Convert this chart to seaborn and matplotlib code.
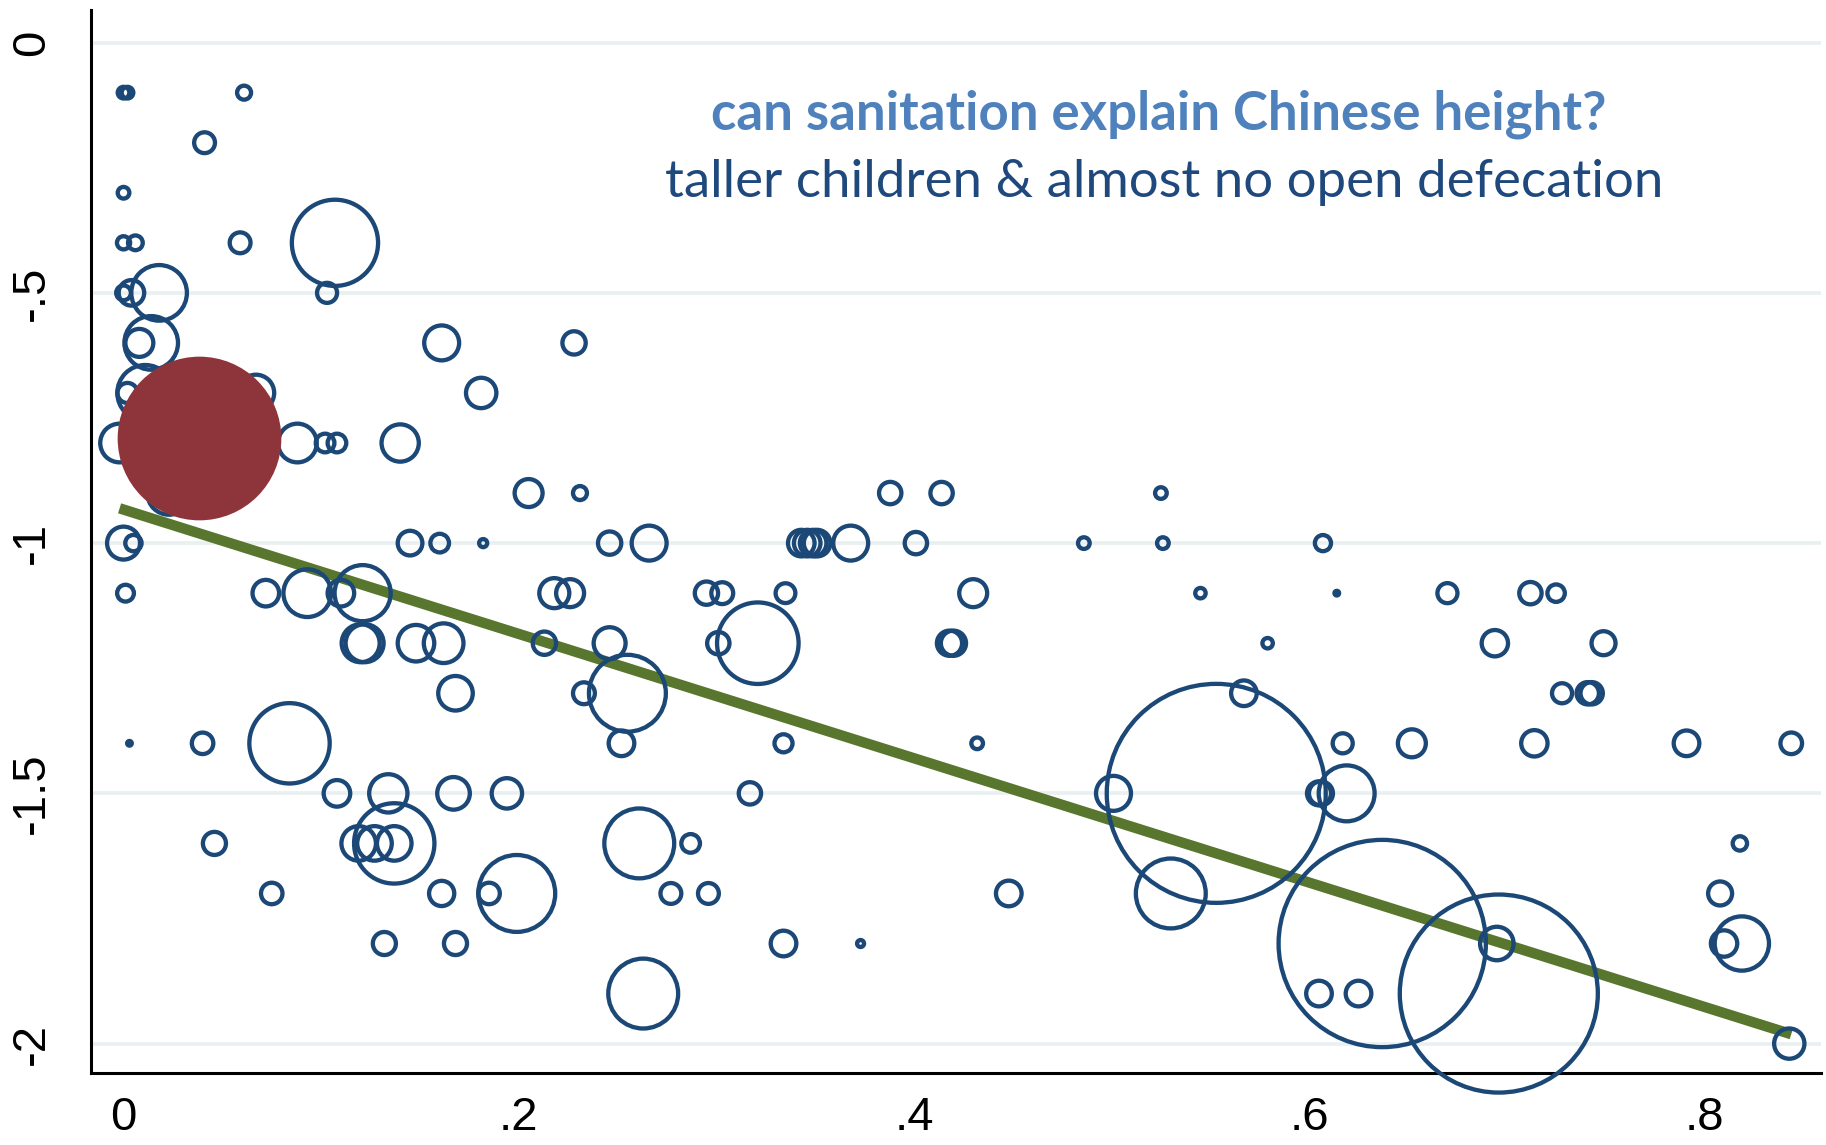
import numpy as np
import pandas as pd
import matplotlib
matplotlib.use("Agg")
import matplotlib.pyplot as plt
import seaborn as sns

# share of households practising open defecation (x), child height-for-age (y), population weight
open_def = [0.000, 0.002, 0.061,
            0.041,
            0.000,
            0.000, 0.006, 0.059, 0.107,
            0.000, 0.004, 0.018, 0.103,
            0.008, 0.014, 0.161, 0.228,
            0.002, 0.011, 0.067, 0.181,
            -0.002, 0.088, 0.102, 0.108, 0.140,
            0.023, 0.205, 0.231, 0.388, 0.414, 0.525,
            0.000, 0.005, 0.145, 0.160, 0.182, 0.246, 0.266, 0.343, 0.346, 0.349, 0.351,
            0.368, 0.401, 0.486, 0.526, 0.607,
            0.001, 0.072, 0.093, 0.110, 0.121, 0.218, 0.226, 0.295, 0.303, 0.335, 0.430,
            0.545, 0.614, 0.670, 0.712, 0.725,
            0.120, 0.122, 0.148, 0.162, 0.213, 0.246, 0.301, 0.321, 0.418, 0.420, 0.579,
            0.694, 0.749,
            0.168, 0.233, 0.255, 0.567, 0.728, 0.741, 0.743,
            0.003, 0.040, 0.084, 0.252, 0.334, 0.432, 0.617, 0.652, 0.714, 0.791, 0.844,
            0.108, 0.134, 0.167, 0.194, 0.317, 0.501, 0.553, 0.605, 0.606, 0.619,
            0.046, 0.119, 0.127, 0.137, 0.137, 0.261, 0.287, 0.818,
            0.075, 0.161, 0.185, 0.199, 0.277, 0.296, 0.448, 0.530, 0.808,
            0.132, 0.168, 0.334, 0.373, 0.637, 0.695, 0.810, 0.819,
            0.263, 0.605, 0.625, 0.696,
            0.843]
height = [-0.1, -0.1, -0.1,
          -0.2,
          -0.3,
          -0.4, -0.4, -0.4, -0.4,
          -0.5, -0.5, -0.5, -0.5,
          -0.6, -0.6, -0.6, -0.6,
          -0.7, -0.7, -0.7, -0.7,
          -0.8, -0.8, -0.8, -0.8, -0.8,
          -0.9, -0.9, -0.9, -0.9, -0.9, -0.9,
          -1.0, -1.0, -1.0, -1.0, -1.0, -1.0, -1.0, -1.0, -1.0, -1.0, -1.0,
          -1.0, -1.0, -1.0, -1.0, -1.0,
          -1.1, -1.1, -1.1, -1.1, -1.1, -1.1, -1.1, -1.1, -1.1, -1.1, -1.1,
          -1.1, -1.1, -1.1, -1.1, -1.1,
          -1.2, -1.2, -1.2, -1.2, -1.2, -1.2, -1.2, -1.2, -1.2, -1.2, -1.2,
          -1.2, -1.2,
          -1.3, -1.3, -1.3, -1.3, -1.3, -1.3, -1.3,
          -1.4, -1.4, -1.4, -1.4, -1.4, -1.4, -1.4, -1.4, -1.4, -1.4, -1.4,
          -1.5, -1.5, -1.5, -1.5, -1.5, -1.5, -1.5, -1.5, -1.5, -1.5,
          -1.6, -1.6, -1.6, -1.6, -1.6, -1.6, -1.6, -1.6,
          -1.7, -1.7, -1.7, -1.7, -1.7, -1.7, -1.7, -1.7, -1.7,
          -1.8, -1.8, -1.8, -1.8, -1.8, -1.8, -1.8, -1.8,
          -1.9, -1.9, -1.9, -1.9,
          -2.0]
pop = [0.25, 0.25, 0.36,
       0.8,
       0.25,
       0.32, 0.4, 0.8, 13.7,
       0.4, 1.2, 5.7, 0.74,
       1.44, 5.3, 2.25, 1.0,
       0.74, 5.76, 2.46, 1.7,
       2.76, 2.76, 0.64, 0.64, 2.56,
       3.46, 1.44, 0.36, 0.92, 0.92, 0.25,
       2.0, 0.49, 1.12, 0.64, 0.12, 1.0, 2.25, 1.3, 1.3, 1.3, 1.3,
       2.25, 0.92, 0.25, 0.25, 0.48,
       0.52, 1.3, 4.2, 1.3, 5.8, 1.66, 1.44, 1.0, 0.88, 0.72, 1.44,
       0.2, 0.04, 0.74, 0.92, 0.56,
       2.66, 2.66, 2.46, 2.9, 1.0, 1.88, 0.92, 12.25, 1.17, 1.17, 0.2,
       1.28, 1.06,
       2.2, 0.88, 10.9, 1.21, 0.74, 0.92, 0.92,
       0.04, 0.85, 11.9, 1.21, 0.6, 0.25, 0.74, 1.44, 1.28, 1.21, 0.86,
       1.3, 2.7, 1.96, 1.7, 0.92, 2.25, 88.4, 1.06, 1.06, 5.76,
       0.98, 2.2, 2.2, 2.2, 11.9, 9.0, 0.64, 0.38,
       0.85, 1.17, 0.85, 10.9, 0.8, 0.8, 1.21, 9.0, 1.06,
       0.98, 0.98, 1.21, 0.09, 79.2, 2.07, 1.28, 5.43,
       9.0, 1.21, 1.21, 72.3,
       1.69]

china_x = [0.038]
china_y = [-0.79]
china_pop = [49.4]

fit_intercept = -0.933
fit_slope = -1.242

xticks = [0, 0.2, 0.4, 0.6, 0.8]
xtick_labels = ["0", ".2", ".4", ".6", ".8"]
yticks = [0, -0.5, -1, -1.5, -2]
ytick_labels = ["0", "-.5", "-1", "-1.5", "-2"]

title1 = "can sanitation explain Chinese height?"
title2 = "taller children & almost no open defecation"

df = pd.DataFrame({"x": open_def, "y": height, "pop": pop})
china = pd.DataFrame({"x": china_x, "y": china_y, "pop": china_pop})
fit = pd.DataFrame({"x": [df["x"].min(), df["x"].max()]})
fit["y"] = fit_intercept + fit_slope * fit["x"]

sns.set_style("white")
plt.rcParams['font.family'] = ['Liberation Sans', 'DejaVu Sans']

navy = "#1b4876"
red = "#8e353b"
green = "#58762e"

fig = plt.figure(figsize=(18.26, 11.45), dpi=100)
ax = fig.add_axes([0.0498, 0.0632, 0.9474, 0.928])

pmax = 90.0
smax = 281.2 * pmax

sns.lineplot(data=fit, x="x", y="y", color=green, linewidth=7.5, ax=ax,
             solid_capstyle="butt", zorder=2)
sns.scatterplot(data=df, x="x", y="y", size="pop", sizes=(0, smax), size_norm=(0, pmax),
                facecolor="none", edgecolor=navy, linewidth=3.1, legend=False, ax=ax,
                zorder=3, clip_on=False)
sns.scatterplot(data=china, x="x", y="y", size="pop", sizes=(0, smax), size_norm=(0, pmax),
                color=red, linewidth=0, legend=False, ax=ax, zorder=4)

ax.set_xlim(-0.0165, 0.859)
ax.set_ylim(-2.058, 0.065)
ax.set_xticks(xticks)
ax.set_xticklabels(xtick_labels)
ax.set_yticks(yticks)
ax.set_yticklabels(ytick_labels, rotation=90, va="center")
ax.set_xlabel("")
ax.set_ylabel("")

ax.yaxis.grid(True, color="#e8f0f2", linewidth=2.6)
ax.set_axisbelow(True)
for s in ["top", "right"]:
    ax.spines[s].set_visible(False)
for s in ["left", "bottom"]:
    ax.spines[s].set_linewidth(2.2)
    ax.spines[s].set_color("black")
ax.tick_params(axis="both", direction="out", length=13.7, width=2.2, colors="black",
               labelsize=34)
ax.tick_params(axis="y", pad=13)
ax.tick_params(axis="x", pad=3)

fig.text(0.6346, 0.9005, title1, ha="center", va="center", fontsize=38,
         fontweight="bold", color="#4f81bd", family=["Lato", "DejaVu Sans"])
fig.text(0.6377, 0.8405, title2, ha="center", va="center", fontsize=38,
         color="#1f497d", family=["Lato", "DejaVu Sans"])

fig.savefig("out.png", dpi=100)
